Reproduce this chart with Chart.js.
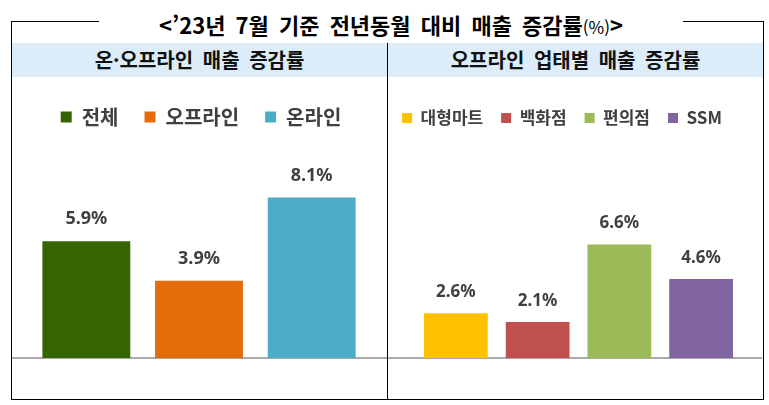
<!DOCTYPE html>
<html lang="ko">
<head>
    <meta charset="UTF-8">
    <title>매출 증감률</title>
    <script src="https://cdn.jsdelivr.net/npm/chart.js"></script>
    <style>
        body { margin: 0; width: 769px; height: 405px; background: #fff; position: relative; overflow: hidden;
               font-family: "Noto Sans CJK KR", "Noto Sans", sans-serif; }
        .abs { position: absolute; }
        #frame { left: 11px; top: 21px; width: 751px; height: 377px; border: 1px solid #000; }
        #title { left: 99px; top: 9px; width: 584px; height: 30px; line-height: 30px; background: #fff;
                 text-align: center; font-weight: bold; font-size: 22px; color: #000; word-spacing: 4px; }
        #title small { font-size: 17px; font-weight: normal; }
        #band { left: 12px; top: 43px; width: 751px; height: 34px; background: #dcedf9; }
        .bandText { top: 43px; height: 34px; line-height: 34px; text-align: center; font-weight: bold;
                    font-size: 20px; color: #111; word-spacing: 4px; }
        #divider { left: 387px; top: 43px; width: 1px; height: 356px; background: #000; z-index: 5; }
        .box { top: 78px; height: 321px; }
    </style>
</head>
<body>
    <div id="frame" class="abs"></div>
    <div id="title" class="abs"></div>
    <div id="band" class="abs"></div>
    <div id="leftHead" class="abs bandText" style="left:12px;width:375px;"></div>
    <div id="rightHead" class="abs bandText" style="left:388px;width:375px;"></div>
    <div class="abs box" style="left:12px;width:378px;"><canvas id="leftChart"></canvas></div>
    <div class="abs box" style="left:362px;width:400px;"><canvas id="rightChart"></canvas></div>
    <div id="divider" class="abs"></div>
    <script>
        const mainTitle = '<\u201923년 7월 기준 전년동월 대비 매출 증감률';
        const leftTitle = '온·오프라인 매출 증감률';
        const rightTitle = '오프라인 업태별 매출 증감률';

        const leftLabels = ['전체', '오프라인', '온라인'];
        const leftValues = [5.9, 3.9, 8.1];
        const leftColors = ['#356400', '#e46c0a', '#4bacc6'];

        const rightLabels = ['대형마트', '백화점', '편의점', 'SSM'];
        const rightValues = [2.6, 2.1, 6.6, 4.6];
        const rightColors = ['#ffc000', '#c0504d', '#9bbb59', '#8064a2'];

        document.getElementById('title').innerHTML = mainTitle.replace('<', '&lt;') + '<small>(%)</small>&gt;';
        document.getElementById('leftHead').textContent = leftTitle;
        document.getElementById('rightHead').textContent = rightTitle;

        // values above bars + gray base line
        const barLabels = {
            id: 'barLabels',
            beforeDatasetsDraw(chart, args, opts) {
                const ctx = chart.ctx;
                const y0 = chart.scales.y.getPixelForValue(0);
                ctx.save();
                ctx.strokeStyle = '#8c8c8c';
                ctx.lineWidth = 1.5;
                ctx.beginPath();
                ctx.moveTo(opts.lineFrom, y0);
                ctx.lineTo(opts.lineTo, y0);
                ctx.stroke();
                ctx.restore();
            },
            afterDatasetsDraw(chart, args, opts) {
                const ctx = chart.ctx;
                const values = chart.data.datasets[0].data;
                ctx.save();
                ctx.font = 'bold ' + opts.size + 'px "Noto Sans", sans-serif';
                ctx.fillStyle = '#404040';
                ctx.textAlign = 'center';
                ctx.textBaseline = 'middle';
                chart.getDatasetMeta(0).data.forEach((bar, i) => {
                    ctx.fillText(values[i].toFixed(1) + '%', bar.x, bar.y - opts.gap);
                });
                ctx.restore();
            }
        };

        // empty side axes keep the legend wide while narrowing the bar area
        function sideAxis(pos, w, max) {
            return {
                display: true,
                position: pos,
                min: 0,
                max: max,
                ticks: { display: false },
                grid: { display: false },
                border: { display: false },
                afterFit(scale) { scale.width = w; }
            };
        }

        function makeChart(id, labels, values, colors, o) {
            return new Chart(document.getElementById(id), {
                type: 'bar',
                data: {
                    labels: labels,
                    datasets: [{
                        data: values,
                        backgroundColor: colors,
                        barPercentage: 0.78,
                        categoryPercentage: 1
                    }]
                },
                options: {
                    responsive: true,
                    maintainAspectRatio: false,
                    animation: false,
                    layout: { padding: { left: 0, right: 0, top: o.top, bottom: 41 } },
                    scales: {
                        x: { display: false },
                        y: sideAxis('left', o.left, o.max),
                        y2: sideAxis('right', o.right, o.max)
                    },
                    plugins: {
                        tooltip: { enabled: false },
                        legend: {
                            position: 'top',
                            labels: {
                                boxWidth: o.box,
                                boxHeight: o.box,
                                padding: o.legendPad,
                                color: '#404040',
                                font: { size: o.legendFont, weight: 'bold', family: '"Noto Sans CJK KR", sans-serif' },
                                generateLabels: chart => chart.data.labels.map((t, i) => ({
                                    text: t, fillStyle: colors[i], strokeStyle: colors[i], lineWidth: 0,
                                    hidden: false, index: i, fontColor: '#404040'
                                }))
                            }
                        },
                        barLabels: { size: o.labelSize, gap: o.gap, lineFrom: o.lineFrom, lineTo: o.lineTo }
                    }
                },
                plugins: [barLabels]
            });
        }

        makeChart('leftChart', leftLabels, leftValues, leftColors, {
            left: 18, right: 22, top: 3, max: 11.16, box: 11, legendPad: 26, legendFont: 20,
            labelSize: 18, gap: 22, lineFrom: 0, lineTo: 375
        });
        makeChart('rightChart', rightLabels, rightValues, rightColors, {
            left: 53, right: 20, top: 13.5, max: 12.88, box: 10, legendPad: 18, legendFont: 17,
            labelSize: 17, gap: 21, lineFrom: 26, lineTo: 400
        });
    </script>
</body>
</html>
